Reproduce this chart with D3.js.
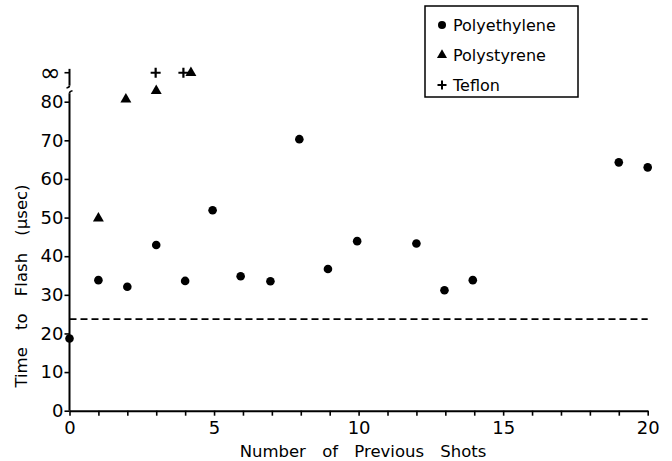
<!DOCTYPE html>
<html><head><meta charset="utf-8">
<script src="https://cdn.jsdelivr.net/npm/d3@7/dist/d3.min.js"></script>
<style>body{margin:0;background:#fff}svg{display:block}text{font-family:"DejaVu Sans",sans-serif;fill:#000}</style>
</head><body><svg id="c" width="672" height="461"></svg>
<script>
// Data
const INF = "inf"; // marker for "never flashed" (plotted at the ∞ level)
const polyethyleneX = [0, 1, 2, 3, 4, 4.95, 5.92, 6.95, 7.95, 8.94, 9.95, 12, 12.97, 13.95, 19, 20];
const polyethyleneY = [18.7, 33.8, 32.1, 42.9, 33.6, 51.9, 34.8, 33.5, 70.3, 36.7, 43.9, 43.3, 31.2, 33.8, 64.3, 63.0];
const polystyreneX = [1, 1.95, 3, 4.2];
const polystyreneY = [49.8, 80.6, 82.8, INF];
const teflonX = [2.98, 3.94];
const teflonY = [INF, INF];
const thresholdY = 23.7;
const xTicks = [0,1,2,3,4,5,6,7,8,9,10,11,12,13,14,15,16,17,18,19,20];
const xTickLabels = [0, 5, 10, 15, 20];
const yTicks = [0, 10, 20, 30, 40, 50, 60, 70, 80];
const INF_LEVEL = 87.5; // axis position of the ∞ tick
const legendLabels = ["Polyethylene", "Polystyrene", "Teflon"];

const svg = d3.select("#c");
const x = d3.scaleLinear().domain([0, 20]).range([69.5, 647.7]);
const y = d3.scaleLinear().domain([0, 80]).range([410.7, 101.7]);
const yv = v => y(v === INF ? INF_LEVEL : v);

// dashed threshold line
svg.append("line").attr("x1", x(0)).attr("x2", x(20)).attr("y1", y(thresholdY)).attr("y2", y(thresholdY))
  .attr("stroke", "#000").attr("stroke-width", 1.6).attr("stroke-dasharray", "7,4");

// X axis
const xAxis = d3.axisBottom(x).tickValues(xTicks).tickSize(5).tickSizeOuter(0)
  .tickFormat(d => xTickLabels.includes(d) ? d : "");
const gx = svg.append("g").attr("transform", `translate(0,${y(0)})`).call(xAxis);
gx.select(".domain").attr("stroke-width", 2);
gx.selectAll(".tick line").attr("stroke-width", 1.6);
gx.selectAll(".tick text").attr("font-size", 18).attr("dy", "0.85em").attr("font-family", "DejaVu Sans");

// Y axis (main segment)
const yAxis = d3.axisLeft(y).tickValues(yTicks).tickSize(5).tickSizeOuter(0);
const gy = svg.append("g").attr("transform", `translate(${x(0)},0)`).call(yAxis);
gy.select(".domain").remove();
gy.selectAll(".tick line").attr("stroke-width", 1.6);
gy.selectAll(".tick text").attr("font-size", 18).attr("x", -6).attr("font-family", "DejaVu Sans");
const x0 = x(0);
svg.append("line").attr("x1", x0).attr("x2", x0).attr("y1", y(0)).attr("y2", y(82.2)).attr("stroke", "#000").attr("stroke-width", 2);
// break marks
svg.append("path").attr("d", `M${x0},${y(82.2)} q0,-2 3,-2.5`).attr("fill","none").attr("stroke","#000").attr("stroke-width",1.6);
svg.append("path").attr("d", `M${x0},${y(84.2)} q0,2 -3,2.5`).attr("fill","none").attr("stroke","#000").attr("stroke-width",1.6);
svg.append("line").attr("x1", x0).attr("x2", x0).attr("y1", y(84.2)).attr("y2", y(INF_LEVEL+1)).attr("stroke", "#000").attr("stroke-width", 2);
svg.append("line").attr("x1", x0-5).attr("x2", x0).attr("y1", y(INF_LEVEL)).attr("y2", y(INF_LEVEL)).attr("stroke", "#000").attr("stroke-width", 1.6);
svg.append("text").attr("x", x0-9).attr("y", y(INF_LEVEL)).attr("dy", "0.35em").attr("text-anchor", "end")
  .attr("font-size", 25).text("∞");

// Axis titles
svg.append("text").attr("x", 363).attr("y", 457).attr("text-anchor", "middle").attr("font-size", 16.5)
  .attr("word-spacing", 11).text("Number of Previous Shots");
svg.append("text").attr("transform", "translate(27,286) rotate(-90)").attr("text-anchor", "middle")
  .attr("font-size", 16.5).attr("word-spacing", 12).text("Time to Flash (μsec)");

// Marks
const tri = d3.symbol().type(d3.symbolTriangle).size(52);
svg.append("g").selectAll("circle").data(polyethyleneX).join("circle")
  .attr("cx", d => x(d)).attr("cy", (d, i) => yv(polyethyleneY[i])).attr("r", 4.3).attr("fill", "#000");
svg.append("g").selectAll("path").data(polystyreneX).join("path")
  .attr("d", tri).attr("transform", (d, i) => `translate(${x(d)},${yv(polystyreneY[i])})`).attr("fill", "#000");
const plus = (cx, cy, s) => `M${cx-s},${cy}H${cx+s}M${cx},${cy-s}V${cy+s}`;
svg.append("g").selectAll("path").data(teflonX).join("path")
  .attr("d", (d, i) => plus(x(d), yv(teflonY[i]), 5)).attr("stroke", "#000").attr("stroke-width", 2.2).attr("fill", "none");

// Legend
const lg = svg.append("g");
lg.append("rect").attr("x", 425).attr("y", 6).attr("width", 153).attr("height", 91)
  .attr("fill", "#fff").attr("stroke", "#000").attr("stroke-width", 1.5);
legendLabels.forEach((lab, i) => {
  const cy = 25 + i * 30;
  if (i === 0) lg.append("circle").attr("cx", 442).attr("cy", cy).attr("r", 4).attr("fill", "#000");
  if (i === 1) lg.append("path").attr("d", d3.symbol().type(d3.symbolTriangle).size(44)).attr("transform", `translate(442,${cy})`).attr("fill", "#000");
  if (i === 2) lg.append("path").attr("d", plus(442, cy, 4.5)).attr("stroke", "#000").attr("stroke-width", 2).attr("fill", "none");
  lg.append("text").attr("x", 453).attr("y", cy).attr("dy", "0.35em").attr("font-size", 16).text(lab);
});
</script></body></html>
